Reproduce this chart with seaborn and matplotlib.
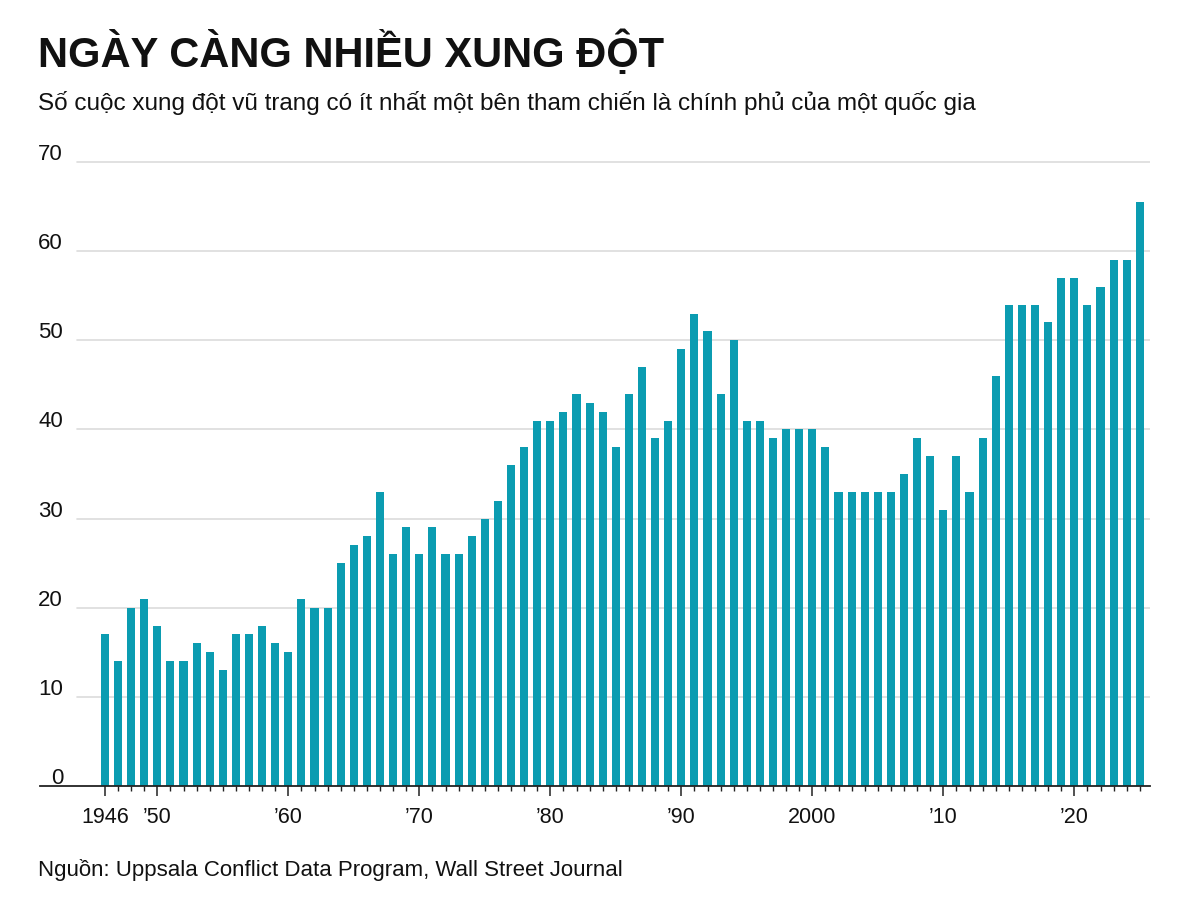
import matplotlib
matplotlib.use("Agg")
import matplotlib.pyplot as plt
import matplotlib.transforms as mtransforms
from matplotlib import font_manager
import seaborn as sns
import pandas as pd

# ---- data ----
years = list(range(1946, 2026))
conflicts = [17, 14, 20, 21, 18, 14, 14, 16, 15, 13,
             17, 17, 18, 16, 15, 21, 20, 20, 25, 27,
             28, 33, 26, 29, 26, 29, 26, 26, 28, 30,
             32, 36, 38, 41, 41, 42, 44, 43, 42, 38,
             44, 47, 39, 41, 49, 53, 51, 44, 50, 41,
             41, 39, 40, 40, 40, 38, 33, 33, 33, 33,
             33, 35, 39, 37, 31, 37, 33, 39, 46, 54,
             54, 54, 52, 57, 57, 54, 56, 59, 59, 65.5]
label_years = [1946, 1950, 1960, 1970, 1980, 1990, 2000, 2010, 2020]
label_texts = ["1946", "\u201950", "\u201960", "\u201970", "\u201980", "\u201990", "2000", "\u201910", "\u201920"]
y_ticks = [0, 10, 20, 30, 40, 50, 60, 70]

title = "NGÀY CÀNG NHIỀU XUNG ĐỘT"
subtitle = "Số cuộc xung đột vũ trang có ít nhất một bên tham chiến là chính phủ của một quốc gia"
source = "Nguồn: Uppsala Conflict Data Program, Wall Street Journal"

# ---- fonts ----
names = {f.name for f in font_manager.fontManager.ttflist}
if "Liberation Sans Narrow" in names:
    FONT = "Liberation Sans Narrow"
    k = 1.0
else:
    FONT = "Liberation Sans"
    k = 0.0

sns.set_theme(style="white")
plt.rcParams["font.family"] = [FONT, "DejaVu Sans"]

def fs(narrow, wide):
    return narrow if k else wide

W, H = 1200, 904
fig = plt.figure(figsize=(W / 100, H / 100), dpi=100)
fig.patch.set_facecolor("white")

# axes geometry in pixels
ax_left, ax_right = 40, 1150
y0_px = 787
px_per_unit = 8.914
ymax = 70.5
ax_top = y0_px - ymax * px_per_unit
ax = fig.add_axes([ax_left / W, (H - y0_px) / H, (ax_right - ax_left) / W, (y0_px - ax_top) / H])
ax.set_facecolor("white")

df = pd.DataFrame({"year": [str(y) for y in years], "n": conflicts})
sns.barplot(data=df, x="year", y="n", color="#0B9CB1", saturation=1, width=0.62,
            ax=ax, zorder=3, linewidth=0)

# x scale: first bar center at 104.9 px, step 13.1 px
first_px, step_px = 104.9, 13.1
ax.set_xlim((ax_left - first_px) / step_px, (ax_right - first_px) / step_px)
ax.set_ylim(0, ymax)

# gridlines (start at x=77 px)
grid_start = (77 - ax_left) / (ax_right - ax_left)
for v in y_ticks[1:]:
    ax.axhline(v, xmin=grid_start, xmax=1, color="#dcdcdc", lw=1.2, zorder=1)

# y labels above gridlines
ytrans = ax.get_yaxis_transform() + mtransforms.ScaledTranslation(0, 3 / 100, fig.dpi_scale_trans)
for v in y_ticks:
    ax.text((63 - ax_left) / (ax_right - ax_left), v, str(v), transform=ytrans,
            ha="right", va="baseline", fontsize=fs(19, 16), color="#111111")
ax.set_yticks([])

# spines
for s in ["top", "right", "left"]:
    ax.spines[s].set_visible(False)
ax.spines["bottom"].set_color("#222222")
ax.spines["bottom"].set_linewidth(1.3)
ax.spines["bottom"].set_zorder(5)

# x ticks
pos = {y: i for i, y in enumerate(years)}
ax.set_xticks([pos[y] for y in label_years])
ax.set_xticklabels(label_texts, fontsize=fs(19, 15.5), color="#111111")
ax.set_xticks(range(len(years)), minor=True)
ax.tick_params(axis="x", which="major", length=7.5, width=1.1, color="#222222", pad=7, bottom=True)
ax.tick_params(axis="x", which="minor", length=3.5, width=1.0, color="#222222", bottom=True)
ax.set_xlabel("")
ax.set_ylabel("")

# texts
fig.text(38 / W, 1 - 67 / H, title, fontsize=fs(38, 30), fontweight="bold", color="#111111",
         ha="left", va="baseline")
fig.text(38 / W, 1 - 110 / H, subtitle, fontsize=fs(20, 17.5), color="#111111", ha="left", va="baseline")
fig.text(38 / W, 1 - 876 / H, source, fontsize=fs(19, 16), color="#111111", ha="left", va="baseline")

fig.savefig("out.png", dpi=100, facecolor="white")
